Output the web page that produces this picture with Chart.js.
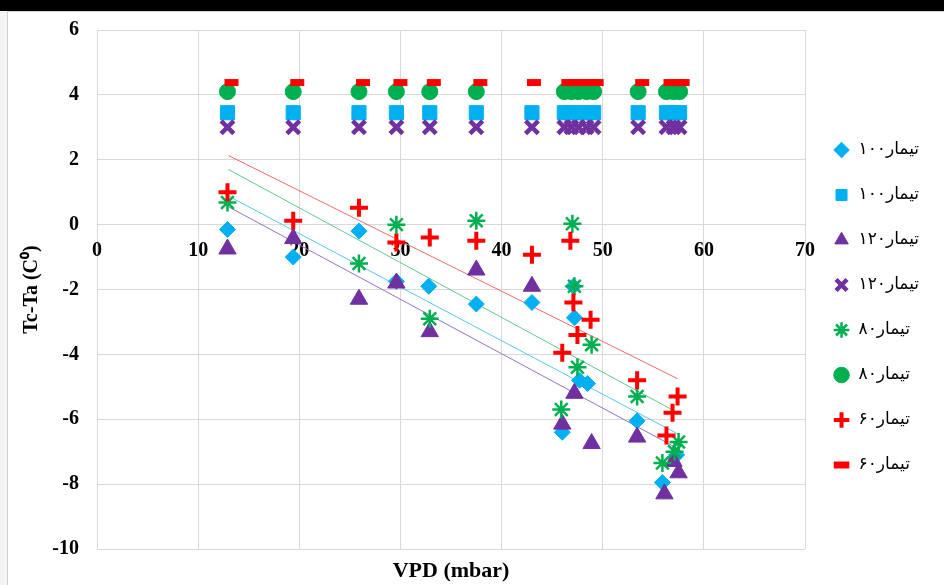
<!DOCTYPE html>
<html>
<head>
<meta charset="utf-8">
<script src="https://cdn.jsdelivr.net/npm/chart.js@4.4.1/dist/chart.umd.min.js"></script>
<style>
html, body { margin: 0; padding: 0; background: #f4f4f4; }
#band { position: absolute; left: 0; top: 0; width: 944px; height: 11px; background: #000; }
#box { position: absolute; left: 7px; top: 11px; width: 936px; height: 573px; background: #fff; border: 1px solid #d0d0d0; }
canvas { display: block; }
</style>
</head>
<body>
<div id="band"></div>
<div id="box"><canvas id="chart" width="936" height="573"></canvas></div>
<script>
// series labels (legend order)
const labels = ["تیمار۱۰۰", "تیمار۱۰۰", "تیمار۱۲۰", "تیمار۱۲۰", "تیمار۸۰", "تیمار۸۰", "تیمار۶۰", "تیمار۶۰"];

// measured points (VPD, Tc-Ta)
const vpd100 = [12.9, 19.4, 25.9, 29.6, 32.8, 37.5, 43.0, 46.0, 47.1, 47.2, 47.7, 48.5, 53.4, 55.9, 57.3];
const dt100 = [-0.15, -1.0, -0.2, -1.75, -1.9, -2.45, -2.4, -6.4, -1.9, -2.87, -4.8, -4.9, -6.05, -7.95, -7.1];

const vpd120 = [12.9, 19.4, 25.9, 29.6, 32.9, 37.5, 43.0, 46.0, 47.2, 48.9, 53.4, 56.1, 57.0, 57.5];
const dt120 = [-0.75, -0.43, -2.3, -1.8, -3.3, -1.4, -1.9, -6.15, -5.2, -6.75, -6.55, -8.3, -7.3, -7.65];

const vpd80 = [12.9, 25.9, 29.6, 32.9, 37.5, 45.9, 47.0, 47.2, 47.5, 48.9, 53.4, 55.9, 57.1, 57.5];
const dt80 = [0.68, -1.2, 0.0, -2.9, 0.12, -5.7, 0.03, -1.9, -4.4, -3.7, -5.3, -7.35, -7.0, -6.7];

const vpd60 = [12.9, 19.4, 25.9, 29.6, 32.9, 37.5, 43.0, 46.0, 46.8, 47.1, 47.5, 48.8, 53.4, 56.3, 56.9, 57.4];
const dt60 = [1.0, 0.12, 0.52, -0.55, -0.4, -0.5, -0.93, -3.95, -0.5, -2.4, -3.4, -2.93, -4.8, -6.5, -5.8, -5.3];

// upper reference rows
const vpdTop = [12.9, 19.4, 25.9, 29.6, 32.9, 37.5, 43.0, 46.2, 46.9, 47.6, 48.4, 49.1, 53.5, 56.3, 57.0, 57.6];
const top100 = [3.45, 3.45, 3.45, 3.45, 3.45, 3.45, 3.45, 3.45, 3.45, 3.45, 3.45, 3.45, 3.45, 3.45, 3.45, 3.45];
const top120 = [3.0, 3.0, 3.0, 3.0, 3.0, 3.0, 3.0, 3.0, 3.0, 3.0, 3.0, 3.0, 3.0, 3.0, 3.0, 3.0];
const vpdTop80 = [12.9, 19.4, 25.9, 29.6, 32.9, 37.5, 46.2, 46.9, 47.6, 48.4, 49.1, 53.5, 56.3, 57.0, 57.6];
const top80 = [4.1, 4.1, 4.1, 4.1, 4.1, 4.1, 4.1, 4.1, 4.1, 4.1, 4.1, 4.1, 4.1, 4.1, 4.1];
const vpdTop60 = [13.3, 19.8, 26.3, 30.0, 33.3, 37.9, 43.2, 46.6, 47.3, 48.0, 48.8, 49.4, 53.9, 56.7, 57.4, 57.9];
const top60 = [4.38, 4.38, 4.38, 4.38, 4.38, 4.38, 4.38, 4.38, 4.38, 4.38, 4.38, 4.38, 4.38, 4.38, 4.38, 4.38];

// linear trend lines, start and end
const trendX = [13.0, 57.4];
const trend60 = [2.13, -4.75];
const trend80 = [1.7, -5.8];
const trend100 = [0.88, -6.45];
const trend120 = [0.55, -6.9];

const pts = (xs, ys) => xs.map((x, i) => ({ x: x, y: ys[i] }));

const BLUE = "#00b0f0", PURPLE = "#7030a0", GREEN = "#00b050", RED = "#ff0000";
const serif = "'Liberation Serif', 'Times New Roman', serif";

function marker(label, data, style, color, radius, bw) {
	return {
		label: label,
		data: data,
		pointStyle: style,
		pointRadius: radius,
		pointHoverRadius: radius,
		backgroundColor: color,
		borderColor: color,
		pointBorderWidth: bw,
		borderWidth: bw,
		showLine: false
	};
}

function trend(data, color) {
	return {
		label: "trend",
		data: data,
		showLine: true,
		pointRadius: 0,
		borderColor: color,
		borderWidth: 1,
		backgroundColor: color,
		fill: false
	};
}

const markers = [
	marker(labels[0], pts(vpd100, dt100), "rectRot", BLUE, 8, 1),
	marker(labels[1], pts(vpdTop, top100), "rect", BLUE, 10, 1),
	marker(labels[2], pts(vpd120, dt120), "triangle", PURPLE, 10, 1),
	marker(labels[3], pts(vpdTop, top120), "crossRot", PURPLE, 9, 4.5),
	marker(labels[4], pts(vpd80, dt80), "star", GREEN, 9, 2.5),
	marker(labels[5], pts(vpdTop80, top80), "circle", GREEN, 8, 1),
	marker(labels[6], pts(vpd60, dt60), "cross", RED, 9, 4),
	marker(labels[7], pts(vpdTop60, top60), "line", RED, 7, 7)
];
// later series drawn on top, like the original
markers.forEach((d, i) => { d.order = 20 - i; });

const trends = [
	trend(pts(trendX, trend120), "#9473c4"),
	trend(pts(trendX, trend100), "#5cc6ef"),
	trend(pts(trendX, trend80), "#62c98a"),
	trend(pts(trendX, trend60), "#ec6a6a")
];
trends.forEach(d => { d.order = 30; });

new Chart(document.getElementById("chart"), {
	type: "scatter",
	data: { datasets: markers.concat(trends) },
	options: {
		responsive: false,
		animation: false,
		layout: { padding: { top: 18, right: 15, left: 0, bottom: 0 } },
		plugins: {
			tooltip: { enabled: false },
			legend: {
				position: "right",
				labels: {
					usePointStyle: true,
					boxHeight: 11,
					padding: 28,
					color: "#000",
					font: { family: "'DejaVu Sans', sans-serif", size: 17 },
					filter: item => item.text !== "trend",
					sort: (a, b) => a.datasetIndex - b.datasetIndex
				}
			}
		},
		scales: {
			x: {
				type: "linear",
				min: 0,
				max: 70,
				ticks: { display: false, stepSize: 10 },
				grid: { color: "#d9d9d9", drawTicks: false },
				border: { display: false },
				title: { display: true, text: "VPD (mbar)", color: "#000", font: { family: serif, size: 22, weight: "bold" }, padding: { top: 4, bottom: 0 } },
				afterFit: s => { s.height = 36; }
			},
			x2: {
				type: "linear",
				position: { y: 0 },
				min: 0,
				max: 70,
				z: 1,
				ticks: { stepSize: 10, padding: 14, color: "#000", font: { family: serif, size: 20, weight: "bold" } },
				grid: { display: false, drawTicks: false },
				border: { display: false }
			},
			y: {
				min: -10,
				max: 6,
				ticks: { stepSize: 2, padding: 18, color: "#000", font: { family: serif, size: 20, weight: "bold" } },
				grid: { color: "#d9d9d9", drawTicks: false },
				border: { display: false },
				title: { display: true, text: "Tc-Ta (C⁰)", color: "#000", font: { family: serif, size: 20, weight: "bold" }, padding: { top: 12, bottom: 0 } },
				afterFit: s => { s.width = 89; s.paddingTop = 0; s.paddingBottom = 0; }
			}
		}
	}
});
</script>
</body>
</html>
